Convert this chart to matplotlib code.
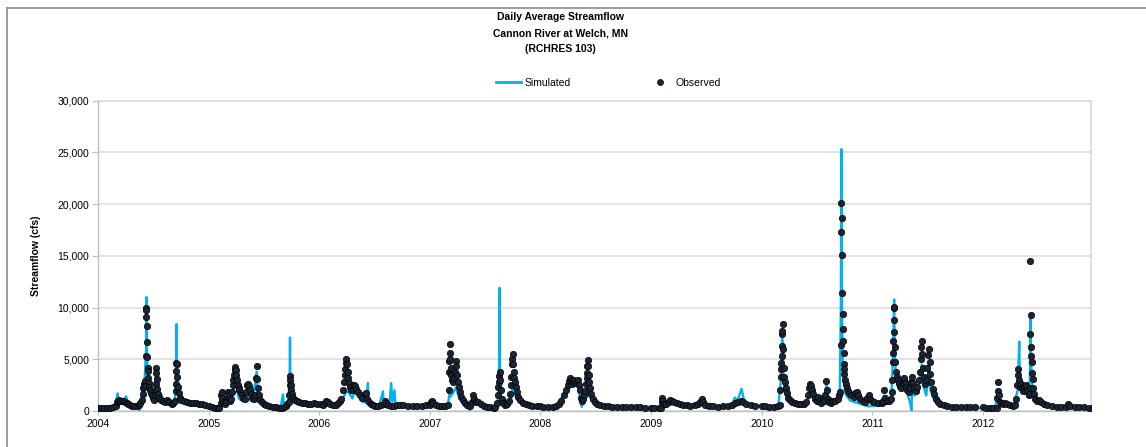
import pandas as pd
import matplotlib
matplotlib.use("Agg")
import matplotlib.pyplot as plt
import matplotlib.dates as mdates
from matplotlib.lines import Line2D
from matplotlib.ticker import FuncFormatter

# valores (data MM-DD, vazao em cfs)
obs_2004 = [("01-01", 300), ("01-10", 290), ("01-20", 300), ("01-30", 310), ("02-10", 320), ("02-20", 350),
            ("02-28", 500), ("03-03", 900), ("03-06", 1000), ("03-10", 1050), ("03-15", 1000), ("03-20", 950),
            ("03-25", 1000), ("03-30", 900), ("04-05", 800), ("04-10", 650), ("04-15", 550), ("04-22", 450),
            ("04-30", 500), ("05-08", 450), ("05-15", 550), ("05-20", 800), ("05-24", 1100), ("05-27", 1600),
            ("05-30", 2200), ("06-01", 2600), ("06-03", 2900), ("06-05", 2400), ("06-06", 5300), ("06-07", 9100),
            ("06-08", 10000), ("06-09", 9800), ("06-10", 8200), ("06-11", 6700), ("06-12", 5200), ("06-13", 4200),
            ("06-14", 3900), ("06-15", 3200), ("06-17", 2700), ("06-19", 2300), ("06-21", 2000), ("06-24", 1700),
            ("06-27", 1500), ("06-30", 1300), ("07-03", 1100), ("07-08", 1500), ("07-10", 2600), ("07-11", 4200),
            ("07-12", 3700), ("07-13", 3100), ("07-15", 2100), ("07-18", 1600), ("07-22", 1300), ("07-28", 1100),
            ("08-03", 1000), ("08-10", 900), ("08-17", 1100), ("08-24", 900), ("08-31", 700), ("09-05", 800),
            ("09-10", 1000), ("09-13", 1900), ("09-14", 2600), ("09-15", 3900), ("09-16", 4600), ("09-17", 4500),
            ("09-18", 3300), ("09-20", 2300), ("09-23", 1700), ("09-27", 1300), ("10-02", 1100), ("10-10", 1000),
            ("10-20", 900), ("10-30", 800), ("11-10", 800), ("11-20", 750), ("12-01", 700), ("12-10", 650),
            ("12-20", 600), ("12-31", 450)]
obs_2005 = [("01-10", 350), ("01-20", 300), ("01-31", 280), ("02-05", 300), ("02-09", 800), ("02-11", 1500),
            ("02-13", 1800), ("02-15", 1300), ("02-18", 900), ("02-22", 700), ("02-28", 900), ("03-04", 1400),
            ("03-06", 1800), ("03-08", 1500), ("03-11", 1000), ("03-15", 1200), ("03-18", 1800), ("03-21", 2500),
            ("03-23", 3000), ("03-25", 3500), ("03-27", 4000), ("03-29", 4250), ("03-31", 4000), ("04-02", 3500),
            ("04-04", 3000), ("04-06", 2500), ("04-09", 2200), ("04-12", 2000), ("04-16", 1700), ("04-20", 1500),
            ("04-25", 1300), ("04-30", 1200), ("05-04", 1800), ("05-07", 2500), ("05-10", 2600), ("05-13", 2400),
            ("05-16", 2000), ("05-20", 1600), ("05-25", 1300), ("05-30", 1200), ("06-04", 1500), ("06-07", 3200),
            ("06-08", 4300), ("06-09", 3100), ("06-11", 2200), ("06-14", 1500), ("06-18", 1100), ("06-24", 900),
            ("07-01", 700), ("07-10", 600), ("07-20", 500), ("08-01", 400), ("08-10", 350), ("08-20", 300),
            ("08-31", 300), ("09-07", 400), ("09-12", 500), ("09-17", 700), ("09-22", 900), ("09-24", 1500),
            ("09-25", 2500), ("09-26", 3350), ("09-27", 3000), ("09-28", 2500), ("09-30", 2000), ("10-03", 1600),
            ("10-07", 1300), ("10-12", 1100), ("10-18", 1000), ("10-25", 900), ("11-05", 800), ("11-15", 750),
            ("11-25", 700), ("12-05", 700), ("12-15", 800), ("12-25", 700)]
obs_2006 = [("01-05", 650), ("01-12", 600), ("01-20", 800), ("01-24", 1000), ("01-28", 900), ("02-05", 700),
            ("02-15", 600), ("02-25", 600), ("03-05", 800), ("03-10", 1000), ("03-15", 1200), ("03-20", 2000),
            ("03-23", 2800), ("03-25", 3500), ("03-27", 4100), ("03-29", 4600), ("03-31", 5000), ("04-02", 4500),
            ("04-04", 3800), ("04-06", 3200), ("04-08", 2700), ("04-11", 2300), ("04-15", 2000), ("04-22", 2000),
            ("04-26", 2500), ("04-29", 2400), ("05-03", 2100), ("05-08", 1800), ("05-14", 1500), ("05-22", 1300),
            ("06-01", 1600), ("06-04", 1700), ("06-08", 1200), ("06-14", 900), ("06-20", 700), ("06-28", 600),
            ("07-05", 500), ("07-15", 450), ("07-25", 550), ("08-01", 700), ("08-05", 1000), ("08-08", 800),
            ("08-15", 600), ("08-25", 500), ("09-05", 500), ("09-15", 550), ("09-25", 600), ("10-05", 550),
            ("10-20", 500), ("11-05", 500), ("11-20", 480), ("12-05", 500), ("12-20", 550), ("12-31", 600)]
obs_2007 = [("01-03", 900), ("01-07", 1000), ("01-12", 800), ("01-20", 600), ("02-01", 500), ("02-10", 450),
            ("02-20", 450), ("03-02", 600), ("03-04", 2000), ("03-05", 3800), ("03-06", 4800), ("03-07", 5600),
            ("03-08", 6500), ("03-09", 5000), ("03-10", 4200), ("03-12", 3500), ("03-15", 3000), ("03-18", 2800),
            ("03-21", 3200), ("03-24", 3800), ("03-27", 4800), ("03-29", 4300), ("03-31", 3500), ("04-03", 2800),
            ("04-06", 2300), ("04-10", 1800), ("04-15", 1400), ("04-20", 1100), ("04-27", 800), ("05-05", 600),
            ("05-12", 450), ("05-20", 900), ("05-23", 1500), ("05-26", 1200), ("06-01", 900), ("06-10", 900),
            ("06-18", 700), ("06-28", 500), ("07-10", 400), ("07-20", 350), ("07-30", 300), ("08-05", 350),
            ("08-10", 800), ("08-13", 1500), ("08-15", 2300), ("08-17", 2800), ("08-18", 3400), ("08-19", 3800),
            ("08-21", 3000), ("08-23", 2000), ("08-26", 1200), ("08-30", 800), ("09-05", 600), ("09-12", 700),
            ("09-18", 1000), ("09-22", 1600), ("09-25", 2500), ("09-27", 3300), ("09-29", 4500), ("09-30", 5000),
            ("10-01", 5550), ("10-03", 4500), ("10-05", 3800), ("10-07", 3200), ("10-09", 2800), ("10-12", 2300),
            ("10-15", 1800), ("10-20", 1400), ("10-26", 1100), ("11-05", 800), ("11-15", 700), ("11-25", 600),
            ("12-05", 500), ("12-20", 450), ("12-31", 450)]
obs_2008 = [("01-10", 400), ("01-25", 380), ("02-10", 400), ("02-22", 500), ("03-03", 700), ("03-10", 1000),
            ("03-18", 1500), ("03-27", 2000), ("04-01", 2500), ("04-04", 2900), ("04-07", 3150), ("04-10", 2900),
            ("04-14", 2600), ("04-18", 2900), ("04-22", 3000), ("04-26", 2700), ("04-30", 2900), ("05-04", 3000),
            ("05-07", 2500), ("05-10", 2000), ("05-13", 1300), ("05-16", 1000), ("05-20", 1200), ("05-24", 1500),
            ("05-28", 1900), ("05-31", 2600), ("06-02", 3200), ("06-03", 3700), ("06-04", 4300), ("06-05", 4900),
            ("06-06", 4300), ("06-08", 3500), ("06-10", 2800), ("06-13", 2200), ("06-17", 1600), ("06-22", 1200),
            ("06-28", 900), ("07-05", 700), ("07-15", 600), ("07-28", 500), ("08-10", 450), ("08-25", 400),
            ("09-10", 400), ("09-25", 380), ("10-10", 380), ("10-25", 400), ("11-10", 380), ("11-25", 350),
            ("12-10", 330), ("12-31", 320)]
obs_2009 = [("01-10", 320), ("01-25", 300), ("02-01", 320), ("02-04", 900), ("02-06", 1300), ("02-08", 1000),
            ("02-12", 700), ("02-20", 700), ("02-28", 900), ("03-05", 1100), ("03-10", 1000), ("03-18", 900),
            ("03-28", 800), ("04-05", 700), ("04-15", 600), ("04-28", 600), ("05-10", 500), ("05-25", 550),
            ("06-05", 700), ("06-12", 900), ("06-16", 1200), ("06-20", 900), ("06-28", 600), ("07-10", 500),
            ("07-25", 450), ("08-10", 400), ("08-25", 450), ("09-10", 500), ("09-25", 600), ("10-05", 800),
            ("10-15", 900), ("10-25", 1000), ("11-01", 900), ("11-10", 700), ("11-25", 550), ("12-10", 500),
            ("12-31", 450)]
obs_2010 = [("01-10", 450), ("01-25", 420), ("02-10", 400), ("02-25", 450), ("03-01", 600), ("03-03", 2000),
            ("03-04", 3300), ("03-05", 4100), ("03-06", 4600), ("03-07", 5300), ("03-08", 6300), ("03-09", 7400),
            ("03-10", 7700), ("03-11", 8450), ("03-12", 6000), ("03-14", 4200), ("03-16", 3300), ("03-18", 2800),
            ("03-21", 2200), ("03-25", 1700), ("03-30", 1300), ("04-05", 1100), ("04-12", 900), ("04-20", 800),
            ("04-30", 700), ("05-10", 650), ("05-20", 700), ("05-28", 900), ("06-03", 1500), ("06-07", 2200),
            ("06-10", 2650), ("06-13", 2400), ("06-16", 2000), ("06-20", 1600), ("06-25", 1200), ("07-01", 1000),
            ("07-06", 1400), ("07-10", 1000), ("07-16", 800), ("07-22", 1300), ("07-25", 1000), ("07-30", 1500),
            ("08-02", 2900), ("08-04", 2000), ("08-07", 1200), ("08-12", 900), ("08-18", 800), ("08-25", 1000),
            ("09-01", 1000), ("09-08", 1200), ("09-14", 1500), ("09-17", 1800), ("09-19", 6400), ("09-20", 17300),
            ("09-21", 20100), ("09-22", 18650), ("09-23", 15100), ("09-24", 11400), ("09-25", 9400), ("09-26", 7900),
            ("09-27", 6800), ("09-28", 5600), ("09-29", 4500), ("09-30", 4100), ("10-01", 3600), ("10-03", 3000),
            ("10-05", 2600), ("10-08", 2200), ("10-12", 1900), ("10-17", 1700), ("10-23", 1500), ("11-01", 1400),
            ("11-06", 1700), ("11-10", 1800), ("11-15", 1500), ("11-22", 1200), ("11-30", 1000), ("12-08", 900),
            ("12-15", 1300), ("12-20", 1500), ("12-25", 1200), ("12-31", 1000)]
obs_2011 = [("01-08", 900), ("01-20", 800), ("02-01", 750), ("02-06", 1000), ("02-09", 2000), ("02-12", 1300),
            ("02-18", 1000), ("02-25", 1000), ("03-03", 1200), ("03-06", 1800), ("03-08", 3000), ("03-09", 4700),
            ("03-10", 5650), ("03-11", 6800), ("03-12", 8750), ("03-13", 10000), ("03-14", 10070), ("03-15", 7650),
            ("03-16", 6150), ("03-18", 4700), ("03-20", 3800), ("03-23", 3300), ("03-26", 3000), ("03-30", 2700),
            ("04-03", 2400), ("04-07", 2200), ("04-11", 2700), ("04-14", 3000), ("04-16", 3150), ("04-19", 2700),
            ("04-23", 2300), ("04-27", 2000), ("05-01", 1800), ("05-05", 2200), ("05-09", 2800), ("05-13", 3300),
            ("05-16", 2700), ("05-20", 2200), ("05-25", 1900), ("05-30", 2300), ("06-03", 3000), ("06-06", 3800),
            ("06-09", 5000), ("06-11", 6200), ("06-13", 6800), ("06-15", 5500), ("06-18", 4200), ("06-21", 3300),
            ("06-25", 2600), ("06-29", 3000), ("07-02", 4200), ("07-05", 5400), ("07-07", 5960), ("07-09", 4700),
            ("07-12", 3600), ("07-15", 2800), ("07-19", 2100), ("07-24", 1600), ("07-30", 1200), ("08-06", 900),
            ("08-14", 700), ("08-24", 550), ("09-05", 450), ("09-20", 400), ("10-05", 380), ("10-20", 380),
            ("11-05", 370), ("11-20", 360), ("12-05", 350), ("12-31", 340)]
obs_2012 = [("01-10", 320), ("01-25", 300), ("02-05", 300), ("02-15", 320), ("02-18", 1300), ("02-19", 1900),
            ("02-20", 2830), ("02-22", 1500), ("02-26", 900), ("03-02", 800), ("03-08", 700), ("03-15", 800),
            ("03-22", 700), ("04-01", 550), ("04-10", 500), ("04-15", 600), ("04-20", 1200), ("04-23", 2500),
            ("04-25", 3450), ("04-27", 4100), ("04-29", 3000), ("05-02", 2300), ("05-05", 2600), ("05-08", 2200),
            ("05-12", 1900), ("05-15", 2400), ("05-19", 2100), ("05-23", 2500), ("05-27", 1900), ("05-31", 1500),
            ("06-02", 1600), ("06-04", 2200), ("06-05", 7460), ("06-06", 14500), ("06-07", 9260), ("06-08", 6180),
            ("06-09", 5300), ("06-10", 4700), ("06-11", 3700), ("06-13", 3100), ("06-15", 2200), ("06-18", 1600),
            ("06-22", 1200), ("06-28", 1000), ("07-05", 1100), ("07-10", 900), ("07-20", 700), ("08-01", 550),
            ("08-15", 450), ("09-01", 400), ("09-15", 380), ("10-01", 400), ("10-08", 700), ("10-15", 450),
            ("11-01", 380), ("11-15", 350), ("12-01", 340), ("12-15", 330), ("12-28", 320)]

sim_2004 = [("01-01", 250), ("02-01", 280), ("02-25", 400), ("03-06", 1700), ("03-10", 1000), ("03-20", 900),
            ("04-03", 1400), ("04-10", 700), ("04-25", 400), ("05-10", 350), ("05-17", 100), ("05-25", 1500),
            ("06-03", 3000), ("06-08", 6000), ("06-09", 11000), ("06-10", 6000), ("06-13", 3500), ("06-20", 2000),
            ("06-30", 1300), ("07-11", 3500), ("07-15", 1800), ("07-28", 1600), ("08-05", 1000), ("08-15", 800),
            ("08-25", 600), ("09-10", 900), ("09-15", 3000), ("09-16", 8400), ("09-17", 4000), ("09-20", 1800),
            ("10-01", 1100), ("10-20", 800), ("11-15", 700), ("12-15", 550), ("12-31", 400)]
sim_2005 = [("01-20", 280), ("02-05", 250), ("02-12", 1600), ("02-16", 800), ("02-25", 600), ("03-06", 1500),
            ("03-10", 800), ("03-20", 1500), ("03-28", 3800), ("04-02", 2500), ("04-10", 1200), ("04-20", 1000),
            ("04-28", 900), ("05-08", 2200), ("05-15", 1500), ("05-25", 900), ("06-08", 3800), ("06-12", 1500),
            ("06-20", 900), ("07-05", 500), ("07-20", 300), ("08-10", 250), ("08-25", 250), ("09-03", 1600),
            ("09-06", 600), ("09-20", 700), ("09-25", 3500), ("09-26", 7100), ("09-27", 3000), ("10-02", 1600),
            ("10-15", 1000), ("11-01", 800), ("11-20", 700), ("12-15", 700), ("12-31", 600)]
sim_2006 = [("01-24", 900), ("02-10", 600), ("03-10", 700), ("03-20", 1200), ("03-31", 1900), ("04-08", 1800),
            ("04-20", 1200), ("04-26", 1800), ("05-10", 1500), ("05-22", 900), ("06-05", 800), ("06-10", 2700),
            ("06-13", 800), ("06-25", 500), ("07-15", 300), ("07-30", 1900), ("08-02", 500), ("08-20", 400),
            ("08-26", 2700), ("08-30", 900), ("09-06", 2000), ("09-09", 600), ("09-25", 500), ("10-20", 450),
            ("11-20", 450), ("12-20", 500), ("12-31", 550)]
sim_2007 = [("01-07", 1000), ("01-20", 500), ("02-15", 400), ("03-01", 400), ("03-06", 1600), ("03-10", 1400),
            ("03-20", 1800), ("03-28", 2300), ("04-05", 1500), ("04-20", 700), ("05-05", 300), ("05-12", 100),
            ("05-23", 1300), ("06-05", 700), ("06-25", 400), ("07-20", 300), ("08-10", 400), ("08-17", 2000),
            ("08-19", 11900), ("08-20", 5000), ("08-22", 1500), ("08-28", 600), ("09-15", 500), ("09-25", 900),
            ("10-01", 2500), ("10-05", 1800), ("10-15", 1200), ("11-01", 700), ("12-01", 450), ("12-31", 400)]
sim_2008 = [("02-01", 350), ("02-25", 450), ("03-08", 1200), ("03-25", 1800), ("04-07", 2800), ("04-20", 2600),
            ("05-04", 2700), ("05-12", 1000), ("05-16", 400), ("05-25", 1000), ("06-05", 2500), ("06-10", 1500),
            ("06-20", 900), ("07-05", 600), ("08-01", 450), ("09-01", 400), ("10-01", 400), ("11-01", 380),
            ("12-01", 330), ("12-31", 300)]
sim_2009 = [("01-30", 250), ("02-05", 1000), ("02-12", 600), ("03-01", 700), ("03-08", 1200), ("03-20", 800),
            ("04-15", 500), ("05-01", 400), ("05-20", 500), ("06-05", 700), ("06-16", 900), ("07-01", 500),
            ("07-15", 700), ("07-25", 400), ("08-20", 350), ("09-15", 400), ("09-25", 600), ("10-04", 1300),
            ("10-10", 900), ("10-20", 1600), ("10-26", 2150), ("11-02", 1200), ("11-15", 600), ("12-10", 500),
            ("12-31", 500)]
sim_2010 = [("02-01", 500), ("02-25", 600), ("03-05", 3000), ("03-09", 7000), ("03-11", 6500), ("03-14", 3000),
            ("03-20", 1800), ("04-01", 1000), ("04-20", 700), ("05-15", 500), ("06-01", 900), ("06-10", 2000),
            ("06-20", 1200), ("07-05", 900), ("07-25", 1000), ("08-03", 2500), ("08-10", 900), ("09-01", 700),
            ("09-15", 1000), ("09-19", 10000), ("09-21", 25300), ("09-22", 17000), ("09-23", 9000), ("09-25", 5000),
            ("09-28", 3000), ("10-05", 1600), ("10-20", 1000), ("11-10", 800), ("12-01", 600), ("12-20", 450),
            ("12-31", 500)]
sim_2011 = [("01-25", 500), ("02-09", 1500), ("02-20", 700), ("03-05", 1500), ("03-10", 5000), ("03-14", 10780),
            ("03-16", 6000), ("03-20", 3000), ("03-28", 2200), ("04-10", 2000), ("04-16", 2800), ("04-25", 1800),
            ("05-05", 900), ("05-10", 50), ("05-13", 2600), ("05-20", 1500), ("06-01", 1800), ("06-13", 4500),
            ("06-18", 2500), ("06-28", 1500), ("07-07", 4500), ("07-12", 2000), ("07-25", 1000), ("08-10", 600),
            ("09-01", 400), ("10-01", 350), ("11-01", 330), ("12-01", 320), ("12-31", 300)]
sim_2012 = [("02-10", 280), ("02-20", 1800), ("02-25", 800), ("03-15", 700), ("04-10", 400), ("04-25", 2000),
            ("04-30", 6700), ("05-02", 2500), ("05-15", 1800), ("05-28", 1500), ("06-04", 3000), ("06-06", 9000),
            ("06-08", 5000), ("06-12", 2500), ("06-20", 1200), ("07-05", 800), ("08-01", 500), ("09-01", 380),
            ("10-08", 600), ("11-01", 350), ("12-01", 320), ("12-28", 300)]

anos = [2004, 2005, 2006, 2007, 2008, 2009, 2010, 2011, 2012]
observado = [obs_2004, obs_2005, obs_2006, obs_2007, obs_2008, obs_2009, obs_2010, obs_2011, obs_2012]
simulado = [sim_2004, sim_2005, sim_2006, sim_2007, sim_2008, sim_2009, sim_2010, sim_2011, sim_2012]

titulo = "Daily Average Streamflow\nCannon River at Welch, MN\n(RCHRES 103)"
fonte = ["Liberation Sans Narrow", "Liberation Sans", "DejaVu Sans"]


def monta_serie(lista):
    datas, valores = [], []
    for ano, pontos in zip(anos, lista):
        for md, v in pontos:
            datas.append(pd.Timestamp(f"{ano}-{md}"))
            valores.append(v)
    return datas, valores


plt.rcParams["font.family"] = fonte
obs_x, obs_y = monta_serie(observado)
sim_x, sim_y = monta_serie(simulado)

fig = plt.figure(figsize=(11.46, 4.47), dpi=100)
ax = fig.add_axes([98 / 1146, 1 - 411 / 447, 993 / 1146, 310.5 / 447])

# moldura externa cinza (esquerda e topo)
fig.add_artist(Line2D([7 / 1146, 7 / 1146], [0, 1 - 7.5 / 447], transform=fig.transFigure, color="#8c8c8c", lw=1.2))
fig.add_artist(Line2D([7 / 1146, 1], [1 - 7.5 / 447, 1 - 7.5 / 447], transform=fig.transFigure, color="#8c8c8c", lw=1.2))

ax.plot(sim_x, sim_y, color="#00b0f0", lw=1.7, zorder=3)
ax.plot(obs_x, obs_y, ls="none", marker="o", ms=4.6, mfc="#1b2535", mec="#000000", mew=0.5, zorder=4)

ax.set_xlim(pd.Timestamp("2004-01-01"), pd.Timestamp("2012-12-23"))
ax.set_ylim(0, 30000)
ax.set_yticks(range(0, 30001, 5000))
ax.yaxis.set_major_formatter(FuncFormatter(lambda v, p: f"{v:,.0f}"))
ax.xaxis.set_major_locator(mdates.YearLocator())
ax.xaxis.set_major_formatter(mdates.DateFormatter("%Y"))
ax.grid(axis="y", color="#e0e0e0", lw=1.3, zorder=0)
ax.set_axisbelow(True)

for lado in ["top", "right"]:
    ax.spines[lado].set_color("#d9d9d9")
    ax.spines[lado].set_linewidth(1.2)
for lado in ["left", "bottom"]:
    ax.spines[lado].set_color("#bfbfbf")
    ax.spines[lado].set_linewidth(1.0)

ax.tick_params(axis="y", length=4, color="#bfbfbf", labelsize=7.5, pad=2.5)
ax.tick_params(axis="x", length=3, color="#bfbfbf", labelsize=7.5, pad=3)
ax.set_ylabel("Streamflow (cfs)", fontsize=7.5, fontweight="bold", labelpad=12)

fig.text(0.489, 1 - 33 / 447, titulo, ha="center", va="center", fontsize=7.5, fontweight="bold", linespacing=1.75)

alca_sim = Line2D([], [], color="#00b0f0", lw=2)
alca_obs = Line2D([], [], ls="none", marker="o", ms=4.3, mfc="#1b2535", mec="#000000", mew=0.5)
fig.legend([alca_sim, alca_obs], ["Simulated", "Observed"], loc="center", bbox_to_anchor=(0.531, 1 - 83 / 447),
           ncol=2, frameon=False, fontsize=7.5, handlelength=2.4, handletextpad=0.3, columnspacing=7.4)

plt.savefig("out.png", dpi=100)
